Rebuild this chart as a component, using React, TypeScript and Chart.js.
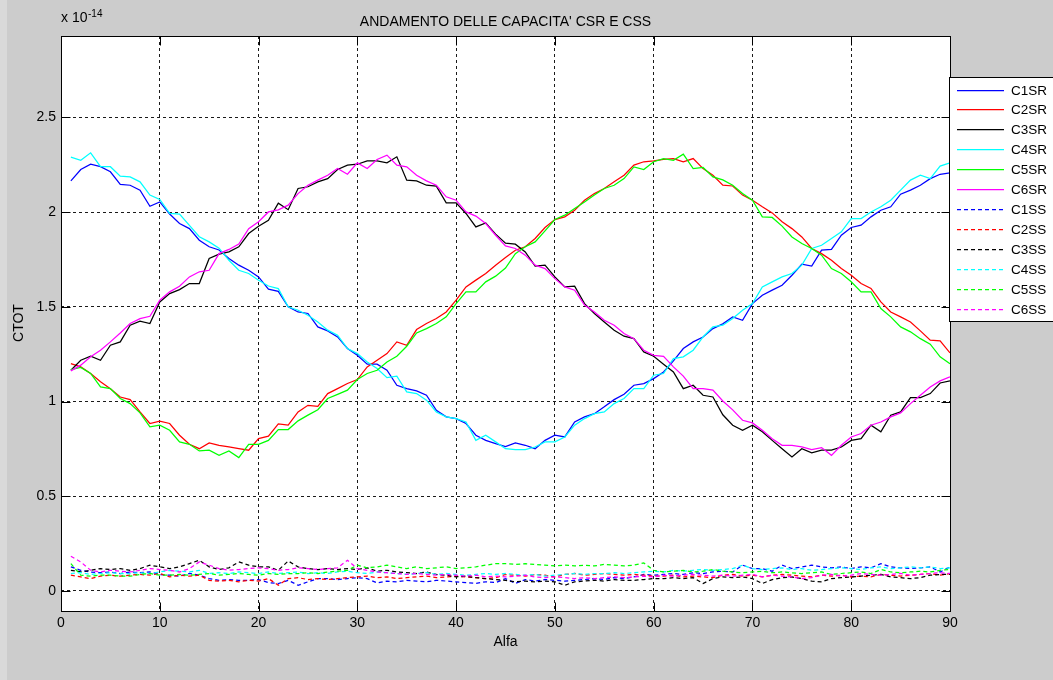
import { useEffect, useRef } from 'react';
import { Chart, registerables } from 'chart.js';

Chart.register(...registerables);

// Angle index (Alfa) for every sample
const alfa = Array.from({ length: 90 }, (_, i) => i + 1);

const xTicks = [0, 10, 20, 30, 40, 50, 60, 70, 80, 90];
const yTicks = [0, 0.5, 1, 1.5, 2, 2.5];

// CSR capacitances (x 1e-14)
const c1sr = [
  2.165, 2.225, 2.253, 2.24, 2.213, 2.146, 2.142, 2.116, 2.031, 2.054,
  1.99, 1.94, 1.913, 1.852, 1.817, 1.8, 1.755, 1.72, 1.693, 1.658,
  1.593, 1.582, 1.5, 1.473, 1.465, 1.394, 1.373, 1.341, 1.28, 1.244,
  1.197, 1.197, 1.165, 1.086, 1.068, 1.056, 1.033, 0.954, 0.919, 0.91,
  0.884, 0.822, 0.795, 0.778, 0.762, 0.781, 0.769, 0.751, 0.795, 0.822,
  0.813, 0.892, 0.919, 0.936, 0.972, 1.01, 1.038, 1.086, 1.095, 1.121,
  1.156, 1.215, 1.28, 1.315, 1.341, 1.385, 1.41, 1.447, 1.429, 1.517,
  1.561, 1.588, 1.614, 1.667, 1.725, 1.715, 1.799, 1.803, 1.878, 1.919,
  1.931, 1.975, 2.01, 2.028, 2.095, 2.116, 2.142, 2.177, 2.2, 2.207,
];
const c2sr = [
  1.2, 1.183, 1.148, 1.104, 1.068, 1.024, 1.01, 0.945, 0.884, 0.896,
  0.884, 0.822, 0.774, 0.751, 0.781, 0.769, 0.76, 0.751, 0.743, 0.804,
  0.817, 0.882, 0.875, 0.945, 0.98, 0.975, 1.042, 1.068, 1.095, 1.116,
  1.183, 1.218, 1.253, 1.315, 1.297, 1.38, 1.412, 1.438, 1.473, 1.535,
  1.605, 1.641, 1.676, 1.72, 1.76, 1.799, 1.817, 1.861, 1.919, 1.961,
  1.975, 2.01, 2.063, 2.098, 2.125, 2.16, 2.195, 2.248, 2.266, 2.271,
  2.278, 2.283, 2.266, 2.283, 2.23, 2.195, 2.142, 2.138, 2.09, 2.063,
  2.028, 1.996, 1.949, 1.913, 1.869, 1.808, 1.781, 1.746, 1.702, 1.667,
  1.623, 1.597, 1.526, 1.473, 1.447, 1.42, 1.373, 1.324, 1.32, 1.257,
];
const c3sr = [
  1.165, 1.218, 1.239, 1.218, 1.297, 1.315, 1.403, 1.424, 1.412, 1.526,
  1.57, 1.591, 1.623, 1.623, 1.755, 1.778, 1.79, 1.817, 1.887, 1.926,
  1.957, 2.047, 2.013, 2.125, 2.134, 2.16, 2.177, 2.225, 2.248, 2.253,
  2.271, 2.271, 2.26, 2.292, 2.169, 2.165, 2.142, 2.137, 2.049, 2.049,
  1.993, 1.922, 1.943, 1.884, 1.836, 1.831, 1.79, 1.715, 1.72, 1.658,
  1.605, 1.609, 1.517, 1.465, 1.42, 1.376, 1.345, 1.332, 1.262, 1.239,
  1.197, 1.156, 1.068, 1.086, 1.033, 1.024, 0.93, 0.875, 0.848, 0.875,
  0.84, 0.795, 0.751, 0.707, 0.751, 0.729, 0.743, 0.743, 0.76, 0.795,
  0.804, 0.875, 0.84, 0.928, 0.945, 1.021, 1.021, 1.042, 1.098, 1.109,
];
const c4sr = [
  2.29, 2.274, 2.313, 2.24, 2.24, 2.19, 2.186, 2.16, 2.09, 2.067,
  1.993, 1.99, 1.93, 1.87, 1.843, 1.81, 1.746, 1.693, 1.676, 1.64,
  1.61, 1.596, 1.5, 1.482, 1.456, 1.42, 1.377, 1.35, 1.28, 1.253,
  1.209, 1.174, 1.126, 1.134, 1.051, 1.042, 1.007, 0.945, 0.919, 0.91,
  0.892, 0.795, 0.822, 0.787, 0.751, 0.746, 0.746, 0.76, 0.787, 0.787,
  0.813, 0.875, 0.91, 0.936, 0.945, 0.989, 1.016, 1.068, 1.068, 1.139,
  1.148, 1.227, 1.236, 1.271, 1.341, 1.394, 1.403, 1.438, 1.482, 1.517,
  1.605, 1.632, 1.658, 1.676, 1.72, 1.808, 1.825, 1.861, 1.896, 1.966,
  1.966, 2.001, 2.028, 2.063, 2.116, 2.169, 2.195, 2.177, 2.243, 2.26,
];
const c5sr = [
  1.169, 1.18, 1.148, 1.077, 1.068, 1.016, 0.989, 0.94, 0.866, 0.875,
  0.848, 0.787, 0.774, 0.739, 0.743, 0.716, 0.739, 0.704, 0.774, 0.774,
  0.795, 0.852, 0.852, 0.898, 0.928, 0.957, 1.016, 1.038, 1.06, 1.116,
  1.148, 1.165, 1.209, 1.239, 1.292, 1.362, 1.385, 1.412, 1.447, 1.517,
  1.579, 1.579, 1.632, 1.662, 1.705, 1.781, 1.817, 1.843, 1.901, 1.961,
  1.984, 2.019, 2.054, 2.09, 2.125, 2.142, 2.177, 2.239, 2.225, 2.266,
  2.283, 2.274, 2.306, 2.23, 2.236, 2.186, 2.17, 2.142, 2.098, 2.063,
  1.975, 1.972, 1.926, 1.869, 1.834, 1.808, 1.773, 1.702, 1.676, 1.632,
  1.579, 1.579, 1.491, 1.447, 1.394, 1.368, 1.332, 1.303, 1.236, 1.2,
];
const c6sr = [
  1.162, 1.192, 1.236, 1.271, 1.315, 1.362, 1.412, 1.438, 1.45, 1.535,
  1.579, 1.609, 1.658, 1.685, 1.693, 1.781, 1.803, 1.831, 1.913, 1.949,
  2.001, 2.012, 2.037, 2.098, 2.142, 2.169, 2.195, 2.23, 2.2, 2.26,
  2.23, 2.278, 2.301, 2.248, 2.239, 2.195, 2.165, 2.142, 2.081, 2.063,
  2.001, 1.979, 1.94, 1.878, 1.822, 1.808, 1.773, 1.72, 1.702, 1.649,
  1.605, 1.588, 1.509, 1.473, 1.429, 1.403, 1.359, 1.332, 1.271, 1.244,
  1.239, 1.183, 1.134, 1.068, 1.068, 1.06, 1.003, 0.956, 0.901, 0.887,
  0.848, 0.804, 0.769, 0.769, 0.76, 0.746, 0.757, 0.716, 0.769, 0.813,
  0.831, 0.875, 0.892, 0.919, 0.94, 0.989, 1.033, 1.077, 1.109, 1.13,
];

// CSS capacitances (x 1e-14)
const c1ss = [
  0.127, 0.109, 0.1, 0.096, 0.1, 0.092, 0.1, 0.096, 0.1, 0.087,
  0.083, 0.078, 0.092, 0.083, 0.065, 0.056, 0.06, 0.056, 0.056, 0.06,
  0.044, 0.039, 0.056, 0.03, 0.048, 0.065, 0.065, 0.06, 0.065, 0.07,
  0.065, 0.042, 0.052, 0.048, 0.056, 0.052, 0.048, 0.056, 0.052, 0.048,
  0.044, 0.04, 0.048, 0.044, 0.065, 0.04, 0.06, 0.052, 0.06, 0.056,
  0.052, 0.056, 0.06, 0.065, 0.06, 0.07, 0.065, 0.074, 0.087, 0.083,
  0.087, 0.092, 0.087, 0.096, 0.092, 0.1, 0.104, 0.1, 0.136, 0.118,
  0.118, 0.104, 0.136, 0.118, 0.127, 0.136, 0.127, 0.122, 0.127, 0.118,
  0.127, 0.122, 0.144, 0.127, 0.122, 0.118, 0.122, 0.127, 0.1, 0.127,
];
const c2ss = [
  0.083, 0.074, 0.065, 0.078, 0.083, 0.078, 0.083, 0.087, 0.083, 0.092,
  0.074, 0.083, 0.078, 0.083, 0.056, 0.052, 0.056, 0.048, 0.056, 0.052,
  0.065, 0.03, 0.065, 0.07, 0.06, 0.065, 0.06, 0.065, 0.07, 0.074,
  0.078, 0.07, 0.074, 0.065, 0.07, 0.074, 0.078, 0.07, 0.074, 0.078,
  0.074, 0.07, 0.065, 0.07, 0.087, 0.083, 0.078, 0.087, 0.083, 0.074,
  0.087, 0.092, 0.083, 0.087, 0.092, 0.087, 0.083, 0.087, 0.083, 0.078,
  0.078, 0.083, 0.074, 0.078, 0.074, 0.07, 0.083, 0.087, 0.078, 0.083,
  0.074, 0.083, 0.087, 0.083, 0.078, 0.074, 0.083, 0.078, 0.083, 0.074,
  0.078, 0.074, 0.087, 0.083, 0.078, 0.083, 0.087, 0.092, 0.083, 0.092,
];
const c3ss = [
  0.109, 0.1, 0.109, 0.118, 0.113, 0.118, 0.109, 0.118, 0.136, 0.127,
  0.118, 0.127, 0.144, 0.162, 0.127, 0.113, 0.122, 0.153, 0.136, 0.127,
  0.127, 0.109, 0.158, 0.127, 0.118, 0.113, 0.118, 0.113, 0.118, 0.113,
  0.122, 0.104, 0.109, 0.1, 0.096, 0.092, 0.1, 0.087, 0.083, 0.074,
  0.078, 0.07, 0.065, 0.06, 0.056, 0.048, 0.052, 0.048, 0.052, 0.048,
  0.03, 0.048, 0.052, 0.056, 0.052, 0.06, 0.056, 0.056, 0.06, 0.065,
  0.065, 0.07, 0.065, 0.07, 0.039, 0.065, 0.074, 0.07, 0.074, 0.065,
  0.039, 0.06, 0.07, 0.074, 0.065, 0.052, 0.048, 0.065, 0.07, 0.074,
  0.078, 0.083, 0.087, 0.074, 0.07, 0.065, 0.07, 0.083, 0.087, 0.087,
];
const c4ss = [
  0.092, 0.096, 0.087, 0.092, 0.096, 0.092, 0.092, 0.096, 0.092, 0.1,
  0.109, 0.104, 0.1, 0.109, 0.092, 0.096, 0.092, 0.1, 0.096, 0.092,
  0.1, 0.092, 0.096, 0.1, 0.092, 0.096, 0.092, 0.1, 0.104, 0.096,
  0.092, 0.1, 0.096, 0.092, 0.087, 0.092, 0.096, 0.087, 0.092, 0.087,
  0.083, 0.087, 0.092, 0.087, 0.092, 0.087, 0.083, 0.087, 0.078, 0.083,
  0.087, 0.092, 0.087, 0.092, 0.092, 0.096, 0.092, 0.096, 0.1, 0.104,
  0.1, 0.109, 0.104, 0.109, 0.113, 0.109, 0.113, 0.118, 0.136, 0.118,
  0.113, 0.118, 0.122, 0.113, 0.118, 0.109, 0.113, 0.118, 0.122, 0.118,
  0.113, 0.122, 0.127, 0.118, 0.122, 0.127, 0.122, 0.127, 0.118, 0.122,
];
const c5ss = [
  0.144, 0.083, 0.078, 0.083, 0.083, 0.078, 0.078, 0.087, 0.092, 0.083,
  0.083, 0.087, 0.083, 0.087, 0.092, 0.083, 0.087, 0.092, 0.087, 0.083,
  0.092, 0.087, 0.092, 0.092, 0.096, 0.092, 0.1, 0.104, 0.109, 0.136,
  0.122, 0.127, 0.136, 0.127, 0.118, 0.127, 0.118, 0.122, 0.127, 0.118,
  0.122, 0.127, 0.136, 0.144, 0.144, 0.14, 0.144, 0.14, 0.136, 0.132,
  0.136, 0.132, 0.136, 0.132, 0.14, 0.136, 0.132, 0.136, 0.148, 0.109,
  0.1, 0.104, 0.109, 0.1, 0.104, 0.113, 0.104, 0.1, 0.096, 0.1,
  0.104, 0.096, 0.1, 0.096, 0.092, 0.096, 0.1, 0.087, 0.092, 0.096,
  0.1, 0.092, 0.113, 0.1, 0.096, 0.1, 0.104, 0.1, 0.109, 0.113,
];
const c6ss = [
  0.183, 0.153, 0.109, 0.1, 0.109, 0.104, 0.1, 0.109, 0.118, 0.113,
  0.109, 0.1, 0.118, 0.153, 0.136, 0.118, 0.109, 0.113, 0.118, 0.122,
  0.118, 0.109, 0.113, 0.122, 0.118, 0.113, 0.118, 0.122, 0.162, 0.118,
  0.109, 0.1, 0.096, 0.092, 0.087, 0.092, 0.087, 0.083, 0.087, 0.083,
  0.078, 0.083, 0.074, 0.078, 0.074, 0.078, 0.083, 0.074, 0.07, 0.074,
  0.07, 0.065, 0.07, 0.065, 0.07, 0.074, 0.07, 0.074, 0.078, 0.074,
  0.083, 0.078, 0.083, 0.087, 0.083, 0.078, 0.083, 0.078, 0.083, 0.087,
  0.074, 0.083, 0.078, 0.074, 0.065, 0.07, 0.083, 0.087, 0.078, 0.083,
  0.092, 0.087, 0.083, 0.087, 0.092, 0.083, 0.087, 0.092, 0.096, 0.092,
];

const seriesNames = ['C1SR', 'C2SR', 'C3SR', 'C4SR', 'C5SR', 'C6SR', 'C1SS', 'C2SS', 'C3SS', 'C4SS', 'C5SS', 'C6SS'];
const seriesValues = [c1sr, c2sr, c3sr, c4sr, c5sr, c6sr, c1ss, c2ss, c3ss, c4ss, c5ss, c6ss];
const seriesColors = ['#0000ff', '#ff0000', '#000000', '#00ffff', '#00ff00', '#ff00ff'];

const FONT = "'Liberation Sans', Arial, Helvetica, sans-serif";
const FIG_BG = '#cccccc';
const DASH = [4, 3];
const LINE_W = 1.25;

const colorOf = (i: number) => seriesColors[i % seriesColors.length];
const dashOf = (i: number) => (i >= 6 ? DASH : []);

const frame = {
  id: 'matlabFrame',
  beforeDraw(chart: any) {
    const { ctx, chartArea: a, width, height } = chart;
    ctx.save();
    ctx.fillStyle = FIG_BG;
    ctx.fillRect(0, 0, width, height);
    ctx.fillStyle = '#d9d9d9';
    ctx.fillRect(0, 0, 7, height);
    ctx.fillStyle = '#ffffff';
    ctx.fillRect(a.left, a.top, a.right - a.left, a.bottom - a.top);
    ctx.restore();
  },
  afterDraw(chart: any) {
    const { ctx, chartArea: a } = chart;
    const xs = chart.scales.x;
    const ys = chart.scales.y;
    const L = Math.round(a.left) + 0.5;
    const R = Math.round(a.right) + 0.5;
    const T = Math.round(a.top) + 0.5;
    const B = Math.round(a.bottom) + 0.5;
    ctx.save();
    ctx.strokeStyle = '#000';
    ctx.lineWidth = 1;
    ctx.setLineDash([]);
    // inward tick marks on all four sides
    const tl = 9;
    ctx.beginPath();
    xTicks.forEach((v) => {
      const px = Math.round(xs.getPixelForValue(v)) + 0.5;
      ctx.moveTo(px, B);
      ctx.lineTo(px, B - tl);
      ctx.moveTo(px, T);
      ctx.lineTo(px, T + tl);
    });
    yTicks.forEach((v) => {
      const py = Math.round(ys.getPixelForValue(v)) + 0.5;
      ctx.moveTo(L, py);
      ctx.lineTo(L + tl, py);
      ctx.moveTo(R, py);
      ctx.lineTo(R - tl, py);
    });
    ctx.stroke();
    // axes box
    ctx.strokeRect(L, T, R - L, B - T);

    // titles and exponent
    ctx.fillStyle = '#000';
    ctx.font = `14px ${FONT}`;
    ctx.textAlign = 'center';
    ctx.textBaseline = 'alphabetic';
    ctx.fillText("ANDAMENTO DELLE CAPACITA' CSR E CSS", (a.left + a.right) / 2, 26);
    ctx.fillText('Alfa', (a.left + a.right) / 2, 646);
    ctx.textAlign = 'left';
    ctx.fillText('x 10', 61, 21.5);
    ctx.font = `10px ${FONT}`;
    ctx.fillText('-14', 88, 17);
    ctx.save();
    ctx.translate(19, 323);
    ctx.rotate(-Math.PI / 2);
    ctx.font = `14px ${FONT}`;
    ctx.textAlign = 'center';
    ctx.textBaseline = 'middle';
    ctx.fillText('CTOT', 0, 0);
    ctx.restore();

    // legend box
    const lx = 949.5;
    const ly = 77.5;
    ctx.fillStyle = '#ffffff';
    ctx.fillRect(lx, ly, 120, 244);
    ctx.strokeStyle = '#000';
    ctx.lineWidth = 1;
    ctx.strokeRect(lx, ly, 120, 244);
    seriesNames.forEach((name, i) => {
      const y = Math.round(89.5 + 19.95 * i) + 0.5;
      ctx.strokeStyle = colorOf(i);
      ctx.lineWidth = LINE_W;
      ctx.setLineDash(dashOf(i));
      ctx.beginPath();
      ctx.moveTo(957, y);
      ctx.lineTo(1004, y);
      ctx.stroke();
      ctx.setLineDash([]);
      ctx.fillStyle = '#000';
      ctx.font = `13.5px ${FONT}`;
      ctx.textAlign = 'left';
      ctx.textBaseline = 'middle';
      ctx.fillText(name, 1011, y + 0.5);
    });
    ctx.restore();
  },
};

export default function App() {
  const canvasRef = useRef<HTMLCanvasElement | null>(null);

  useEffect(() => {
    const canvas = canvasRef.current;
    if (!canvas) return;
    const datasets = seriesNames.map((name, i) => ({
      label: name,
      data: alfa.map((x, k) => ({ x, y: seriesValues[i][k] })),
      borderColor: colorOf(i),
      backgroundColor: colorOf(i),
      borderWidth: LINE_W,
      borderDash: dashOf(i),
      pointRadius: 0,
      tension: 0,
      fill: false,
      order: seriesNames.length - i,
    }));

    const chart = new Chart(canvas, {
      type: 'line',
      data: { datasets },
      plugins: [frame],
      options: {
        animation: false,
        responsive: false,
        devicePixelRatio: 1,
        layout: { padding: { left: 0, top: 36, right: 103, bottom: 0 } },
        plugins: {
          legend: { display: false },
          title: { display: false },
          tooltip: { enabled: false },
        },
        scales: {
          x: {
            type: 'linear',
            min: 0,
            max: 90,
            afterBuildTicks: (s: any) => {
              s.ticks = xTicks.map((v) => ({ value: v }));
            },
            afterFit: (s: any) => {
              s.height = 69;
            },
            ticks: {
              autoSkip: false,
              maxRotation: 0,
              padding: 4,
              color: '#000',
              font: { family: FONT, size: 14 },
              callback: (v: any) => String(v),
            },
            grid: { color: '#1a1a1a', lineWidth: 1, drawTicks: false },
            border: { display: false, dash: [3, 3] },
          },
          y: {
            type: 'linear',
            min: -0.106,
            max: 2.93,
            afterBuildTicks: (s: any) => {
              s.ticks = yTicks.map((v) => ({ value: v }));
            },
            afterFit: (s: any) => {
              s.width = 61;
            },
            ticks: {
              autoSkip: false,
              padding: 5,
              color: '#000',
              font: { family: FONT, size: 14 },
              callback: (v: any) => String(v),
            },
            grid: { color: '#1a1a1a', lineWidth: 1, drawTicks: false },
            border: { display: false, dash: [3, 3] },
          },
        },
      },
    });
    return () => chart.destroy();
  }, []);

  return (
    <div style={{ position: 'absolute', left: 0, top: 0, width: 1053, height: 680, background: FIG_BG }}>
      <canvas ref={canvasRef} width={1053} height={680} style={{ width: 1053, height: 680, display: 'block' }} />
    </div>
  );
}
